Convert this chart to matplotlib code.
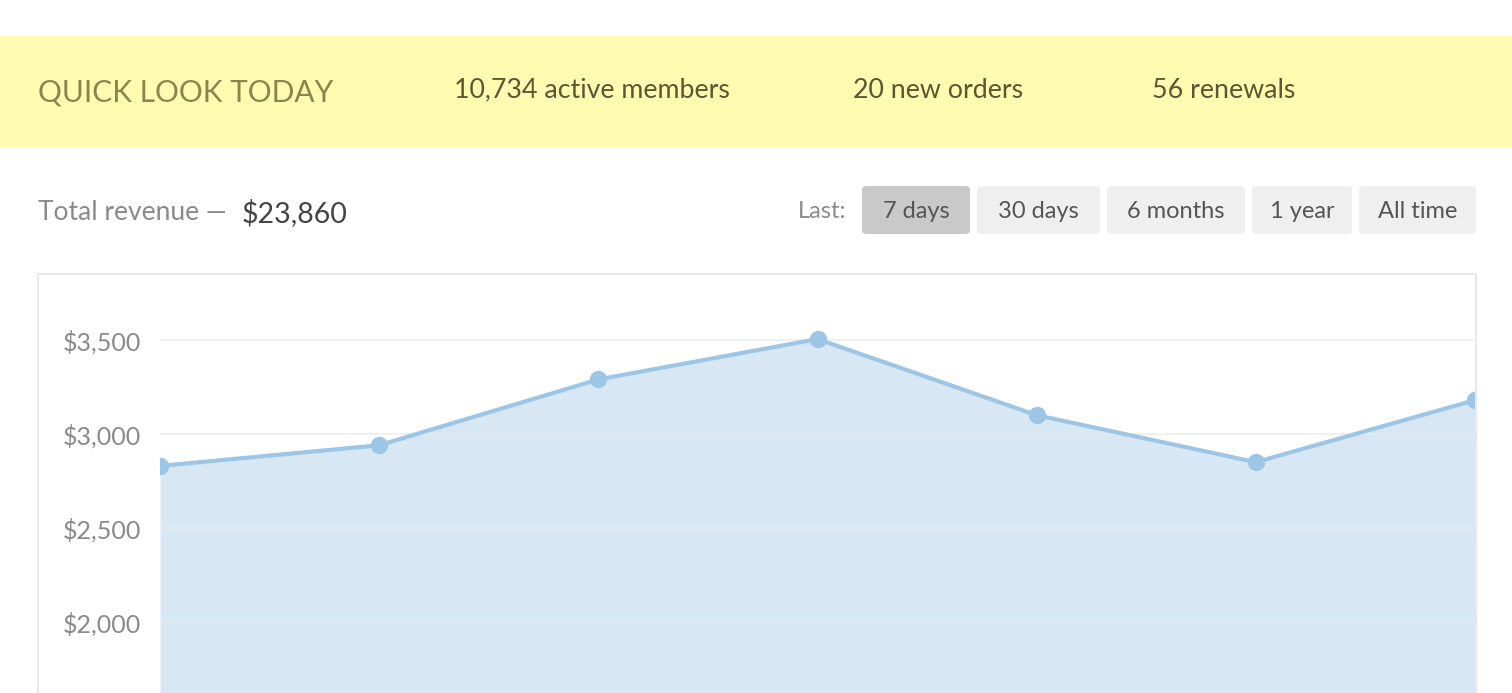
#!/usr/bin/env python3
# -*- coding: utf-8 -*-

"""
Tableau de bord : chiffre d'affaires des 7 derniers jours
"""

import matplotlib
matplotlib.use("Agg")
import matplotlib.pyplot as plt
from matplotlib.patches import Rectangle, FancyBboxPatch
from matplotlib.ticker import FuncFormatter

# Données
days = [0, 1, 2, 3, 4, 5, 6]
revenue = [2830, 2940, 3290, 3505, 3100, 2850, 3180]
y_ticks = [2000, 2500, 3000, 3500]

quick_title = "QUICK LOOK TODAY"
quick_stats = ["10,734 active members", "20 new orders", "56 renewals"]
total_label = "Total revenue \u2014"
total_value = "$23,860"
periods = ["7 days", "30 days", "6 months", "1 year", "All time"]
active_period = "7 days"

W, H = 1512, 693
plt.rcParams["font.family"] = ["Lato", "DejaVu Sans"]

fig = plt.figure(figsize=(W / 100, H / 100), dpi=100)
fig.patch.set_facecolor("white")


def fx(px):
    return px / W


def fy(py):
    # conversion pixel (depuis le haut) -> coordonnées figure
    return 1 - py / H


# Bandeau jaune
fig.patches.append(Rectangle((0, fy(147)), 1, fy(36) - fy(147), transform=fig.transFigure,
                             facecolor="#fffbb1", edgecolor="none", zorder=0))
fig.text(fx(38), fy(92), quick_title, fontsize=21.5, color="#88864c", va="center", ha="left")
for x, s in zip([454, 853, 1152], quick_stats):
    fig.text(fx(x), fy(90), s, fontsize=19.3, color="#5a5830", va="center", ha="left")

# Ligne du total
fig.text(fx(38), fy(213), total_label, fontsize=19, color="#8a8a8a", va="center", ha="left")
fig.text(fx(242), fy(213), total_value, fontsize=20.5, color="#444444", va="center", ha="left")

# Boutons de période
fig.text(fx(846), fy(211), "Last:", fontsize=17, color="#8a8a8a", va="center", ha="right")
btn_x = [(862, 970), (977, 1100), (1107, 1245), (1252, 1352), (1359, 1476)]
for (x0, x1), label in zip(btn_x, periods):
    face = "#c9c9c9" if label == active_period else "#efefef"
    fig.patches.append(FancyBboxPatch((fx(x0), fy(234)), fx(x1 - x0), fy(186) - fy(234),
                                      boxstyle="round,pad=0,rounding_size=0.004",
                                      transform=fig.transFigure, facecolor=face,
                                      edgecolor="none", zorder=1))
    fig.text(fx((x0 + x1) / 2), fy(211), label, fontsize=17, color="#555555",
             va="center", ha="center", zorder=2)

# Cadre du graphique
fig.patches.append(Rectangle((fx(38), fy(700)), fx(1476 - 38), fy(274) - fy(700),
                             transform=fig.transFigure, facecolor="none",
                             edgecolor="#e8e8e8", linewidth=1.5, zorder=0))

# Axes
ax = fig.add_axes([fx(160), 0, fx(1475 - 160), fy(274)])
ax.set_facecolor("none")
ymin, ymax = 1622, 3851
ax.set_xlim(days[0], days[-1])
ax.set_ylim(ymin, ymax)

ax.fill_between(days, revenue, ymin, color="#d8e7f4", linewidth=0, zorder=1)
for yv in y_ticks:
    ax.axhline(yv, color="#e6e9ec", linewidth=1.2, alpha=0.8, zorder=2)
ax.plot(days, revenue, color="#9dc6e6", linewidth=3, marker="o", markersize=12.5,
        markerfacecolor="#9dc6e6", markeredgewidth=0, zorder=3)

ax.set_yticks(y_ticks)
ax.yaxis.set_major_formatter(FuncFormatter(lambda v, p: "${:,.0f}".format(v)))
ax.tick_params(axis="y", length=0, pad=13.5, labelsize=18, labelcolor="#8a8a8a")
ax.set_xticks([])
for sp in ax.spines.values():
    sp.set_visible(False)

fig.savefig("out.png", dpi=100)
